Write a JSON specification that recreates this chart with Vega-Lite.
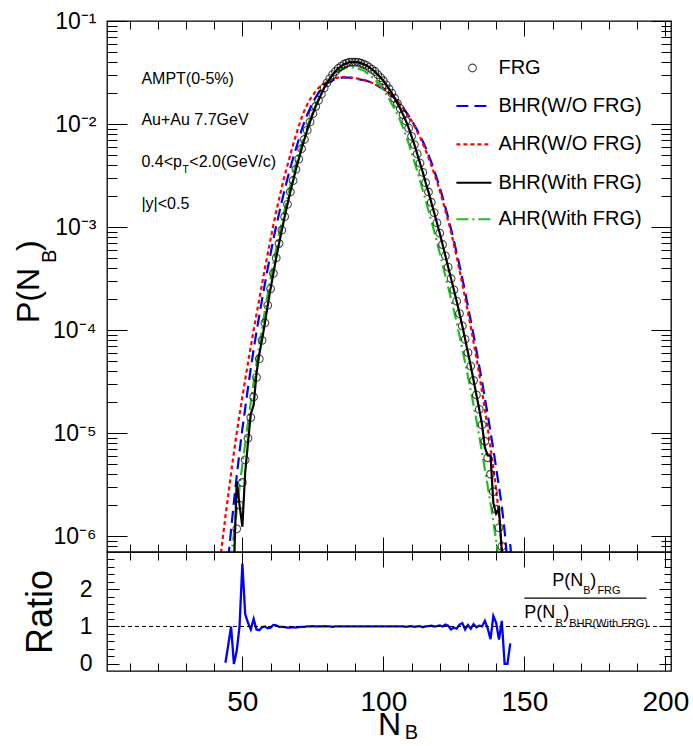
{
"$schema": "https://vega.github.io/schema/vega-lite/v6.json",
"background": "white",
"padding": {"left": 12, "top": 9, "right": 2, "bottom": 2},
"autosize": {"type": "pad"},
"spacing": 0,
"bounds": "flush",
"config": {
 "view": {"stroke": "#000", "strokeWidth": 1.3},
 "font": "Liberation Sans",
 "axis": {"domain": false, "grid": false, "tickColor": "#000", "tickWidth": 1, "labelColor": "#000", "labelFont": "Liberation Sans", "titleFont": "Liberation Sans", "titleFontWeight": "normal", "titleColor": "#000"},
 "text": {"font": "Liberation Sans", "color": "#000"}
},
"datasets": {
 "frg": [{"N":48,"P":1.175e-6},{"N":49,"P":1.995e-6},{"N":50,"P":3.311e-6},{"N":51,"P":5.495e-6},{"N":52,"P":8.913e-6},{"N":53,"P":1.413e-5},{"N":54,"P":2.239e-5},{"N":55,"P":3.467e-5},{"N":56,"P":5.248e-5},{"N":57,"P":7.943e-5},{"N":58,"P":1.175e-4},{"N":59,"P":1.738e-4},{"N":60,"P":2.512e-4},{"N":61,"P":3.548e-4},{"N":62,"P":5.012e-4},{"N":63,"P":6.918e-4},{"N":64,"P":9.333e-4},{"N":65,"P":1.259e-3},{"N":66,"P":1.660e-3},{"N":67,"P":2.188e-3},{"N":68,"P":2.818e-3},{"N":69,"P":3.631e-3},{"N":70,"P":4.571e-3},{"N":71,"P":5.754e-3},{"N":72,"P":7.079e-3},{"N":73,"P":8.710e-3},{"N":74,"P":1.047e-2},{"N":75,"P":1.259e-2},{"N":76,"P":1.479e-2},{"N":77,"P":1.698e-2},{"N":78,"P":1.950e-2},{"N":79,"P":2.239e-2},{"N":80,"P":2.512e-2},{"N":81,"P":2.754e-2},{"N":82,"P":3.020e-2},{"N":83,"P":3.236e-2},{"N":84,"P":3.467e-2},{"N":85,"P":3.631e-2},{"N":86,"P":3.802e-2},{"N":87,"P":3.890e-2},{"N":88,"P":3.981e-2},{"N":89,"P":3.981e-2},{"N":90,"P":3.981e-2},{"N":91,"P":3.981e-2},{"N":92,"P":3.890e-2},{"N":93,"P":3.802e-2},{"N":94,"P":3.715e-2},{"N":95,"P":3.548e-2},{"N":96,"P":3.388e-2},{"N":97,"P":3.236e-2},{"N":98,"P":3.020e-2},{"N":99,"P":2.818e-2},{"N":100,"P":2.630e-2},{"N":101,"P":2.399e-2},{"N":102,"P":2.188e-2},{"N":103,"P":1.995e-2},{"N":104,"P":1.778e-2},{"N":105,"P":1.585e-2},{"N":106,"P":1.413e-2},{"N":107,"P":1.230e-2},{"N":108,"P":1.072e-2},{"N":109,"P":9.120e-3},{"N":110,"P":7.586e-3},{"N":111,"P":6.310e-3},{"N":112,"P":5.129e-3},{"N":113,"P":4.169e-3},{"N":114,"P":3.388e-3},{"N":115,"P":2.692e-3},{"N":116,"P":2.188e-3},{"N":117,"P":1.738e-3},{"N":118,"P":1.380e-3},{"N":119,"P":1.096e-3},{"N":120,"P":8.710e-4},{"N":121,"P":6.761e-4},{"N":122,"P":5.248e-4},{"N":123,"P":4.074e-4},{"N":124,"P":3.162e-4},{"N":125,"P":2.455e-4},{"N":126,"P":1.905e-4},{"N":127,"P":1.445e-4},{"N":128,"P":1.096e-4},{"N":129,"P":8.128e-5},{"N":130,"P":6.026e-5},{"N":131,"P":4.467e-5},{"N":132,"P":3.236e-5},{"N":133,"P":2.344e-5},{"N":134,"P":1.698e-5},{"N":135,"P":1.202e-5},{"N":136,"P":8.318e-6},{"N":137,"P":5.754e-6},{"N":138,"P":3.981e-6},{"N":139,"P":2.692e-6},{"N":140,"P":1.820e-6},{"N":141,"P":1.202e-6},{"N":142,"P":7.943e-7}],
 "curves": [
  {"s":"bw","N":45,"P":6.026e-7},{"s":"bw","N":46,"P":1.148e-6},{"s":"bw","N":47,"P":2.138e-6},{"s":"bw","N":48,"P":3.802e-6},{"s":"bw","N":49,"P":6.607e-6},{"s":"bw","N":50,"P":1.096e-5},{"s":"bw","N":51,"P":1.738e-5},{"s":"bw","N":52,"P":2.754e-5},{"s":"bw","N":53,"P":4.266e-5},{"s":"bw","N":54,"P":6.457e-5},{"s":"bw","N":55,"P":9.550e-5},{"s":"bw","N":56,"P":1.380e-4},{"s":"bw","N":57,"P":1.995e-4},{"s":"bw","N":58,"P":2.818e-4},{"s":"bw","N":59,"P":3.981e-4},{"s":"bw","N":60,"P":5.495e-4},{"s":"bw","N":61,"P":7.586e-4},{"s":"bw","N":62,"P":1.023e-3},{"s":"bw","N":63,"P":1.349e-3},{"s":"bw","N":64,"P":1.778e-3},{"s":"bw","N":65,"P":2.291e-3},{"s":"bw","N":66,"P":2.951e-3},{"s":"bw","N":67,"P":3.715e-3},{"s":"bw","N":68,"P":4.677e-3},{"s":"bw","N":69,"P":5.754e-3},{"s":"bw","N":70,"P":7.079e-3},{"s":"bw","N":71,"P":8.710e-3},{"s":"bw","N":72,"P":1.047e-2},{"s":"bw","N":73,"P":1.230e-2},{"s":"bw","N":74,"P":1.413e-2},{"s":"bw","N":75,"P":1.622e-2},{"s":"bw","N":76,"P":1.820e-2},{"s":"bw","N":77,"P":1.995e-2},{"s":"bw","N":78,"P":2.188e-2},{"s":"bw","N":79,"P":2.344e-2},{"s":"bw","N":80,"P":2.455e-2},{"s":"bw","N":81,"P":2.570e-2},{"s":"bw","N":82,"P":2.661e-2},{"s":"bw","N":83,"P":2.723e-2},{"s":"bw","N":84,"P":2.786e-2},{"s":"bw","N":85,"P":2.818e-2},{"s":"bw","N":86,"P":2.818e-2},{"s":"bw","N":87,"P":2.818e-2},{"s":"bw","N":88,"P":2.818e-2},{"s":"bw","N":89,"P":2.786e-2},{"s":"bw","N":90,"P":2.754e-2},{"s":"bw","N":91,"P":2.723e-2},{"s":"bw","N":92,"P":2.692e-2},{"s":"bw","N":93,"P":2.661e-2},{"s":"bw","N":94,"P":2.630e-2},{"s":"bw","N":95,"P":2.570e-2},{"s":"bw","N":96,"P":2.512e-2},{"s":"bw","N":97,"P":2.427e-2},{"s":"bw","N":98,"P":2.344e-2},{"s":"bw","N":99,"P":2.265e-2},{"s":"bw","N":100,"P":2.188e-2},{"s":"bw","N":101,"P":2.089e-2},{"s":"bw","N":102,"P":1.995e-2},{"s":"bw","N":103,"P":1.884e-2},{"s":"bw","N":104,"P":1.778e-2},{"s":"bw","N":105,"P":1.660e-2},{"s":"bw","N":106,"P":1.549e-2},{"s":"bw","N":107,"P":1.429e-2},{"s":"bw","N":108,"P":1.318e-2},{"s":"bw","N":109,"P":1.202e-2},{"s":"bw","N":110,"P":1.084e-2},{"s":"bw","N":111,"P":9.772e-3},{"s":"bw","N":112,"P":8.710e-3},{"s":"bw","N":113,"P":7.674e-3},{"s":"bw","N":114,"P":6.761e-3},{"s":"bw","N":115,"P":5.888e-3},{"s":"bw","N":116,"P":5.012e-3},{"s":"bw","N":117,"P":4.266e-3},{"s":"bw","N":118,"P":3.548e-3},{"s":"bw","N":119,"P":2.951e-3},{"s":"bw","N":120,"P":2.399e-3},{"s":"bw","N":121,"P":1.950e-3},{"s":"bw","N":122,"P":1.549e-3},{"s":"bw","N":123,"P":1.230e-3},{"s":"bw","N":124,"P":9.550e-4},{"s":"bw","N":125,"P":7.413e-4},{"s":"bw","N":126,"P":5.623e-4},{"s":"bw","N":127,"P":4.266e-4},{"s":"bw","N":128,"P":3.162e-4},{"s":"bw","N":129,"P":2.344e-4},{"s":"bw","N":130,"P":1.698e-4},{"s":"bw","N":131,"P":1.230e-4},{"s":"bw","N":132,"P":8.913e-5},{"s":"bw","N":133,"P":6.310e-5},{"s":"bw","N":134,"P":4.467e-5},{"s":"bw","N":135,"P":3.162e-5},{"s":"bw","N":136,"P":2.188e-5},{"s":"bw","N":137,"P":1.514e-5},{"s":"bw","N":138,"P":1.023e-5},{"s":"bw","N":139,"P":6.918e-6},{"s":"bw","N":140,"P":4.571e-6},{"s":"bw","N":141,"P":3.020e-6},{"s":"bw","N":142,"P":1.950e-6},{"s":"bw","N":143,"P":1.122e-6},{"s":"bw","N":144,"P":5.623e-7},{"s":"bw","N":145,"P":8.318e-7},{"s":"bw","N":146,"P":3.981e-7},
  {"s":"aw","N":41,"P":3.162e-7},{"s":"aw","N":42,"P":5.495e-7},{"s":"aw","N":43,"P":9.333e-7},{"s":"aw","N":44,"P":1.549e-6},{"s":"aw","N":45,"P":2.512e-6},{"s":"aw","N":46,"P":4.074e-6},{"s":"aw","N":47,"P":6.457e-6},{"s":"aw","N":48,"P":1.0e-5},{"s":"aw","N":49,"P":1.514e-5},{"s":"aw","N":50,"P":2.239e-5},{"s":"aw","N":51,"P":3.311e-5},{"s":"aw","N":52,"P":4.786e-5},{"s":"aw","N":53,"P":6.918e-5},{"s":"aw","N":54,"P":1.0e-4},{"s":"aw","N":55,"P":1.413e-4},{"s":"aw","N":56,"P":1.995e-4},{"s":"aw","N":57,"P":2.818e-4},{"s":"aw","N":58,"P":3.981e-4},{"s":"aw","N":59,"P":5.495e-4},{"s":"aw","N":60,"P":7.586e-4},{"s":"aw","N":61,"P":1.047e-3},{"s":"aw","N":62,"P":1.413e-3},{"s":"aw","N":63,"P":1.862e-3},{"s":"aw","N":64,"P":2.455e-3},{"s":"aw","N":65,"P":3.162e-3},{"s":"aw","N":66,"P":3.981e-3},{"s":"aw","N":67,"P":5.012e-3},{"s":"aw","N":68,"P":6.310e-3},{"s":"aw","N":69,"P":7.762e-3},{"s":"aw","N":70,"P":9.550e-3},{"s":"aw","N":71,"P":1.148e-2},{"s":"aw","N":72,"P":1.349e-2},{"s":"aw","N":73,"P":1.549e-2},{"s":"aw","N":74,"P":1.738e-2},{"s":"aw","N":75,"P":1.905e-2},{"s":"aw","N":76,"P":2.089e-2},{"s":"aw","N":77,"P":2.239e-2},{"s":"aw","N":78,"P":2.371e-2},{"s":"aw","N":79,"P":2.483e-2},{"s":"aw","N":80,"P":2.570e-2},{"s":"aw","N":81,"P":2.661e-2},{"s":"aw","N":82,"P":2.723e-2},{"s":"aw","N":83,"P":2.786e-2},{"s":"aw","N":84,"P":2.818e-2},{"s":"aw","N":85,"P":2.851e-2},{"s":"aw","N":86,"P":2.851e-2},{"s":"aw","N":87,"P":2.851e-2},{"s":"aw","N":88,"P":2.818e-2},{"s":"aw","N":89,"P":2.818e-2},{"s":"aw","N":90,"P":2.786e-2},{"s":"aw","N":91,"P":2.754e-2},{"s":"aw","N":92,"P":2.723e-2},{"s":"aw","N":93,"P":2.692e-2},{"s":"aw","N":94,"P":2.630e-2},{"s":"aw","N":95,"P":2.570e-2},{"s":"aw","N":96,"P":2.512e-2},{"s":"aw","N":97,"P":2.455e-2},{"s":"aw","N":98,"P":2.371e-2},{"s":"aw","N":99,"P":2.291e-2},{"s":"aw","N":100,"P":2.188e-2},{"s":"aw","N":101,"P":2.089e-2},{"s":"aw","N":102,"P":1.995e-2},{"s":"aw","N":103,"P":1.884e-2},{"s":"aw","N":104,"P":1.778e-2},{"s":"aw","N":105,"P":1.660e-2},{"s":"aw","N":106,"P":1.549e-2},{"s":"aw","N":107,"P":1.429e-2},{"s":"aw","N":108,"P":1.303e-2},{"s":"aw","N":109,"P":1.189e-2},{"s":"aw","N":110,"P":1.072e-2},{"s":"aw","N":111,"P":9.550e-3},{"s":"aw","N":112,"P":8.414e-3},{"s":"aw","N":113,"P":7.413e-3},{"s":"aw","N":114,"P":6.457e-3},{"s":"aw","N":115,"P":5.559e-3},{"s":"aw","N":116,"P":4.732e-3},{"s":"aw","N":117,"P":3.981e-3},{"s":"aw","N":118,"P":3.311e-3},{"s":"aw","N":119,"P":2.754e-3},{"s":"aw","N":120,"P":2.239e-3},{"s":"aw","N":121,"P":1.820e-3},{"s":"aw","N":122,"P":1.445e-3},{"s":"aw","N":123,"P":1.148e-3},{"s":"aw","N":124,"P":8.913e-4},{"s":"aw","N":125,"P":6.761e-4},{"s":"aw","N":126,"P":5.129e-4},{"s":"aw","N":127,"P":3.802e-4},{"s":"aw","N":128,"P":2.818e-4},{"s":"aw","N":129,"P":2.042e-4},{"s":"aw","N":130,"P":1.479e-4},{"s":"aw","N":131,"P":1.072e-4},{"s":"aw","N":132,"P":7.586e-5},{"s":"aw","N":133,"P":5.370e-5},{"s":"aw","N":134,"P":3.715e-5},{"s":"aw","N":135,"P":2.512e-5},{"s":"aw","N":136,"P":1.698e-5},{"s":"aw","N":137,"P":1.122e-5},{"s":"aw","N":138,"P":7.244e-6},{"s":"aw","N":139,"P":4.571e-6},{"s":"aw","N":140,"P":2.818e-6},{"s":"aw","N":141,"P":1.585e-6},{"s":"aw","N":142,"P":7.943e-7},{"s":"aw","N":143,"P":3.548e-7},
  {"s":"af","N":45,"P":3.39e-7},{"s":"af","N":46,"P":6.03e-7},{"s":"af","N":47,"P":1.047e-6},{"s":"af","N":48,"P":1.778e-6},{"s":"af","N":49,"P":2.951e-6},{"s":"af","N":50,"P":4.898e-6},{"s":"af","N":51,"P":7.943e-6},{"s":"af","N":52,"P":1.259e-5},{"s":"af","N":53,"P":1.995e-5},{"s":"af","N":54,"P":3.090e-5},{"s":"af","N":55,"P":4.677e-5},{"s":"af","N":56,"P":7.079e-5},{"s":"af","N":57,"P":1.047e-4},{"s":"af","N":58,"P":1.549e-4},{"s":"af","N":59,"P":2.239e-4},{"s":"af","N":60,"P":3.162e-4},{"s":"af","N":61,"P":4.467e-4},{"s":"af","N":62,"P":6.166e-4},{"s":"af","N":63,"P":8.318e-4},{"s":"af","N":64,"P":1.122e-3},{"s":"af","N":65,"P":1.479e-3},{"s":"af","N":66,"P":1.950e-3},{"s":"af","N":67,"P":2.512e-3},{"s":"af","N":68,"P":3.236e-3},{"s":"af","N":69,"P":4.074e-3},{"s":"af","N":70,"P":5.129e-3},{"s":"af","N":71,"P":6.310e-3},{"s":"af","N":72,"P":7.762e-3},{"s":"af","N":73,"P":9.333e-3},{"s":"af","N":74,"P":1.122e-2},{"s":"af","N":75,"P":1.318e-2},{"s":"af","N":76,"P":1.514e-2},{"s":"af","N":77,"P":1.738e-2},{"s":"af","N":78,"P":1.995e-2},{"s":"af","N":79,"P":2.239e-2},{"s":"af","N":80,"P":2.455e-2},{"s":"af","N":81,"P":2.692e-2},{"s":"af","N":82,"P":2.884e-2},{"s":"af","N":83,"P":3.090e-2},{"s":"af","N":84,"P":3.236e-2},{"s":"af","N":85,"P":3.388e-2},{"s":"af","N":86,"P":3.467e-2},{"s":"af","N":87,"P":3.548e-2},{"s":"af","N":88,"P":3.548e-2},{"s":"af","N":89,"P":3.548e-2},{"s":"af","N":90,"P":3.508e-2},{"s":"af","N":91,"P":3.467e-2},{"s":"af","N":92,"P":3.388e-2},{"s":"af","N":93,"P":3.311e-2},{"s":"af","N":94,"P":3.162e-2},{"s":"af","N":95,"P":3.020e-2},{"s":"af","N":96,"P":2.851e-2},{"s":"af","N":97,"P":2.692e-2},{"s":"af","N":98,"P":2.512e-2},{"s":"af","N":99,"P":2.344e-2},{"s":"af","N":100,"P":2.138e-2},{"s":"af","N":101,"P":1.950e-2},{"s":"af","N":102,"P":1.758e-2},{"s":"af","N":103,"P":1.567e-2},{"s":"af","N":104,"P":1.396e-2},{"s":"af","N":105,"P":1.230e-2},{"s":"af","N":106,"P":1.072e-2},{"s":"af","N":107,"P":9.226e-3},{"s":"af","N":108,"P":7.762e-3},{"s":"af","N":109,"P":6.457e-3},{"s":"af","N":110,"P":5.309e-3},{"s":"af","N":111,"P":4.315e-3},{"s":"af","N":112,"P":3.508e-3},{"s":"af","N":113,"P":2.818e-3},{"s":"af","N":114,"P":2.265e-3},{"s":"af","N":115,"P":1.820e-3},{"s":"af","N":116,"P":1.445e-3},{"s":"af","N":117,"P":1.148e-3},{"s":"af","N":118,"P":9.120e-4},{"s":"af","N":119,"P":7.161e-4},{"s":"af","N":120,"P":5.559e-4},{"s":"af","N":121,"P":4.315e-4},{"s":"af","N":122,"P":3.350e-4},{"s":"af","N":123,"P":2.600e-4},{"s":"af","N":124,"P":2.018e-4},{"s":"af","N":125,"P":1.549e-4},{"s":"af","N":126,"P":1.175e-4},{"s":"af","N":127,"P":8.81e-5},{"s":"af","N":128,"P":6.53e-5},{"s":"af","N":129,"P":4.84e-5},{"s":"af","N":130,"P":3.548e-5},{"s":"af","N":131,"P":2.570e-5},{"s":"af","N":132,"P":1.862e-5},{"s":"af","N":133,"P":1.334e-5},{"s":"af","N":134,"P":9.33e-6},{"s":"af","N":135,"P":6.457e-6},{"s":"af","N":136,"P":4.467e-6},{"s":"af","N":137,"P":3.055e-6},{"s":"af","N":138,"P":2.065e-6},{"s":"af","N":139,"P":1.380e-6},{"s":"af","N":140,"P":9.12e-7},{"s":"af","N":141,"P":5.62e-7},
  {"s":"bf","N":47,"P":5.0e-7},{"s":"bf","N":48,"P":3.39e-6},{"s":"bf","N":49,"P":2.0e-6},{"s":"bf","N":50,"P":1.23e-6},{"s":"bf","N":51,"P":4.13e-6},{"s":"bf","N":52,"P":8.1e-6},{"s":"bf","N":53,"P":1.536e-5},{"s":"bf","N":54,"P":1.866e-5},{"s":"bf","N":55,"P":3.768e-5},{"s":"bf","N":56,"P":5.83e-5},{"s":"bf","N":57,"P":8.1e-5},{"s":"bf","N":58,"P":1.175e-4},{"s":"bf","N":59,"P":1.738e-4},{"s":"bf","N":60,"P":2.512e-4},{"s":"bf","N":61,"P":3.548e-4},{"s":"bf","N":62,"P":5.012e-4},{"s":"bf","N":63,"P":6.918e-4},{"s":"bf","N":64,"P":9.333e-4},{"s":"bf","N":65,"P":1.259e-3},{"s":"bf","N":66,"P":1.660e-3},{"s":"bf","N":67,"P":2.188e-3},{"s":"bf","N":68,"P":2.818e-3},{"s":"bf","N":69,"P":3.631e-3},{"s":"bf","N":70,"P":4.571e-3},{"s":"bf","N":71,"P":5.754e-3},{"s":"bf","N":72,"P":7.079e-3},{"s":"bf","N":73,"P":8.710e-3},{"s":"bf","N":74,"P":1.047e-2},{"s":"bf","N":75,"P":1.259e-2},{"s":"bf","N":76,"P":1.479e-2},{"s":"bf","N":77,"P":1.698e-2},{"s":"bf","N":78,"P":1.950e-2},{"s":"bf","N":79,"P":2.239e-2},{"s":"bf","N":80,"P":2.512e-2},{"s":"bf","N":81,"P":2.754e-2},{"s":"bf","N":82,"P":3.020e-2},{"s":"bf","N":83,"P":3.236e-2},{"s":"bf","N":84,"P":3.467e-2},{"s":"bf","N":85,"P":3.631e-2},{"s":"bf","N":86,"P":3.802e-2},{"s":"bf","N":87,"P":3.890e-2},{"s":"bf","N":88,"P":3.981e-2},{"s":"bf","N":89,"P":3.981e-2},{"s":"bf","N":90,"P":3.981e-2},{"s":"bf","N":91,"P":3.981e-2},{"s":"bf","N":92,"P":3.890e-2},{"s":"bf","N":93,"P":3.802e-2},{"s":"bf","N":94,"P":3.715e-2},{"s":"bf","N":95,"P":3.548e-2},{"s":"bf","N":96,"P":3.388e-2},{"s":"bf","N":97,"P":3.236e-2},{"s":"bf","N":98,"P":3.020e-2},{"s":"bf","N":99,"P":2.818e-2},{"s":"bf","N":100,"P":2.630e-2},{"s":"bf","N":101,"P":2.399e-2},{"s":"bf","N":102,"P":2.188e-2},{"s":"bf","N":103,"P":1.995e-2},{"s":"bf","N":104,"P":1.778e-2},{"s":"bf","N":105,"P":1.585e-2},{"s":"bf","N":106,"P":1.413e-2},{"s":"bf","N":107,"P":1.230e-2},{"s":"bf","N":108,"P":1.072e-2},{"s":"bf","N":109,"P":9.120e-3},{"s":"bf","N":110,"P":7.586e-3},{"s":"bf","N":111,"P":6.310e-3},{"s":"bf","N":112,"P":5.129e-3},{"s":"bf","N":113,"P":4.169e-3},{"s":"bf","N":114,"P":3.388e-3},{"s":"bf","N":115,"P":2.692e-3},{"s":"bf","N":116,"P":2.188e-3},{"s":"bf","N":117,"P":1.738e-3},{"s":"bf","N":118,"P":1.380e-3},{"s":"bf","N":119,"P":1.096e-3},{"s":"bf","N":120,"P":8.710e-4},{"s":"bf","N":121,"P":6.761e-4},{"s":"bf","N":122,"P":5.248e-4},{"s":"bf","N":123,"P":4.074e-4},{"s":"bf","N":124,"P":3.162e-4},{"s":"bf","N":125,"P":2.455e-4},{"s":"bf","N":126,"P":1.905e-4},{"s":"bf","N":127,"P":1.445e-4},{"s":"bf","N":128,"P":1.096e-4},{"s":"bf","N":129,"P":8.128e-5},{"s":"bf","N":130,"P":6.026e-5},{"s":"bf","N":131,"P":4.467e-5},{"s":"bf","N":132,"P":3.236e-5},{"s":"bf","N":133,"P":2.344e-5},{"s":"bf","N":134,"P":1.698e-5},{"s":"bf","N":135,"P":1.202e-5},{"s":"bf","N":136,"P":7.23e-6},{"s":"bf","N":137,"P":6.06e-6},{"s":"bf","N":138,"P":6.03e-6},{"s":"bf","N":139,"P":2.1e-6},{"s":"bf","N":140,"P":1.65e-6},{"s":"bf","N":141,"P":1.85e-6},{"s":"bf","N":142,"P":6.9e-7},{"s":"bf","N":143,"P":5.0e-7}
 ],
 "ratio": [{"N":44,"r":0.03},{"N":45,"r":0.5},{"N":46,"r":1.0},{"N":47,"r":0.0},{"N":48,"r":0.35},{"N":49,"r":1.0},{"N":50,"r":2.68},{"N":51,"r":1.33},{"N":52,"r":1.1},{"N":53,"r":0.92},{"N":54,"r":1.2},{"N":55,"r":0.92},{"N":56,"r":0.9},{"N":57,"r":0.98},{"N":58,"r":1.0},{"N":59,"r":0.95},{"N":60,"r":0.97},{"N":61,"r":1.04},{"N":62,"r":1.03},{"N":63,"r":0.99},{"N":64,"r":0.99},{"N":65,"r":0.98},{"N":66,"r":0.97},{"N":67,"r":0.97},{"N":68,"r":0.98},{"N":69,"r":0.97},{"N":70,"r":0.98},{"N":71,"r":0.99},{"N":72,"r":0.99},{"N":73,"r":1.0},{"N":74,"r":1.0},{"N":75,"r":1.01},{"N":76,"r":1.0},{"N":77,"r":1.0},{"N":78,"r":1.0},{"N":79,"r":1.01},{"N":80,"r":1.0},{"N":81,"r":1.0},{"N":82,"r":0.99},{"N":83,"r":1.0},{"N":84,"r":1.0},{"N":85,"r":1.0},{"N":86,"r":1.0},{"N":87,"r":1.0},{"N":88,"r":1.0},{"N":89,"r":1.0},{"N":90,"r":1.0},{"N":91,"r":1.0},{"N":92,"r":1.0},{"N":93,"r":1.0},{"N":94,"r":1.0},{"N":95,"r":1.0},{"N":96,"r":1.0},{"N":97,"r":1.0},{"N":98,"r":1.0},{"N":99,"r":1.0},{"N":100,"r":1.0},{"N":101,"r":1.0},{"N":102,"r":1.0},{"N":103,"r":1.0},{"N":104,"r":1.0},{"N":105,"r":1.0},{"N":106,"r":1.0},{"N":107,"r":1.0},{"N":108,"r":0.99},{"N":109,"r":1.0},{"N":110,"r":1.01},{"N":111,"r":0.99},{"N":112,"r":1.0},{"N":113,"r":1.01},{"N":114,"r":0.98},{"N":115,"r":1.0},{"N":116,"r":1.01},{"N":117,"r":1.02},{"N":118,"r":1.0},{"N":119,"r":1.01},{"N":120,"r":1.03},{"N":121,"r":1.0},{"N":122,"r":1.05},{"N":123,"r":1.02},{"N":124,"r":0.92},{"N":125,"r":0.97},{"N":126,"r":0.94},{"N":127,"r":1.05},{"N":128,"r":1.09},{"N":129,"r":0.92},{"N":130,"r":1.04},{"N":131,"r":0.94},{"N":132,"r":1.06},{"N":133,"r":0.98},{"N":134,"r":1.02},{"N":135,"r":1.0},{"N":136,"r":1.15},{"N":137,"r":0.95},{"N":138,"r":0.66},{"N":139,"r":1.28},{"N":140,"r":1.1},{"N":141,"r":0.65},{"N":142,"r":1.15},{"N":143,"r":0.0},{"N":144,"r":0.0},{"N":145,"r":0.55}],
 "legline": [{"s":"bw","x1":125.9,"x2":138.3,"P":0.01496},{"s":"aw","x1":125.9,"x2":138.3,"P":0.00635},{"s":"bf","x1":125.9,"x2":138.3,"P":0.00269},{"s":"af","x1":125.9,"x2":138.3,"P":0.00119}],
 "legpt": [{"N":131.6,"P":0.035}],
 "legtext": [{"t":"FRG","x":140.8,"P":0.035},{"t":"BHR(W/O FRG)","x":140.8,"P":0.01496},{"t":"AHR(W/O FRG)","x":140.8,"P":0.00635},{"t":"BHR(With FRG)","x":140.8,"P":0.00269},{"t":"AHR(With FRG)","x":140.8,"P":0.00119}],
 "annot": [{"t":"AMPT(0-5%)","x":14.2,"P":0.02443},{"t":"Au+Au 7.7GeV","x":14.2,"P":0.00977},{"t":"0.4<p","x":14.2,"P":0.00383},{"t":"<2.0(GeV/c)","x":31.2,"P":0.00383},{"t":"|y|<0.5","x":14.2,"P":0.001496}],
 "annotsub": [{"t":"T","x":28.7,"P":0.00334}],
 "ytmain": [{"t":"P(N","x":-22,"P":1.17e-4},{"t":")","x":-22,"P":5.85e-4}],
 "ytsub": [{"t":"B","x":-16,"P":4.47e-4}],
 "one": [{"v":1}],
 "fracline": [{"x1":150,"x2":193.3,"r":1.76}],
 "fracmain": [{"t":"P(N","x":159.9,"r":2.08},{"t":")","x":173.4,"r":2.08},{"t":"P(N","x":150.0,"r":1.227},{"t":")","x":163.8,"r":1.227}],
 "fracsub": [{"t":"B","x":170.9,"r":1.867},{"t":"FRG","x":175.9,"r":1.867},{"t":"B","x":161.0,"r":0.987},{"t":"BHR(With FRG)","x":165.9,"r":0.987}],
 "xtsub": [{"t":"B","x":107.6,"r":-2.02}]
},
"vconcat": [
 {
  "width": 564, "height": 531,
  "layer": [
   {"data": {"name": "curves"}, "mark": {"type": "line", "strokeWidth": 2.2, "clip": true},
    "encoding": {
     "x": {"field": "N", "type": "quantitative", "scale": {"domain": [2, 202], "nice": false, "zero": false},
       "axis": {"orient": "top", "values": [10,20,30,40,50,60,70,80,90,100,110,120,130,140,150,160,170,180,190,200], "labels": false, "title": null,
        "tickSize": {"condition": {"test": "datum.value % 50 === 0", "value": -15}, "value": -8}}},
     "y": {"field": "P", "type": "quantitative", "scale": {"type": "log", "domain": [7e-7, 0.1], "nice": false},
       "axis": {"orient": "right", "values": [8e-7,9e-7,1e-6,2e-6,3e-6,4e-6,5e-6,6e-6,7e-6,8e-6,9e-6,1e-5,2e-5,3e-5,4e-5,5e-5,6e-5,7e-5,8e-5,9e-5,1e-4,2e-4,3e-4,4e-4,5e-4,6e-4,7e-4,8e-4,9e-4,0.001,0.002,0.003,0.004,0.005,0.006,0.007,0.008,0.009,0.01,0.02,0.03,0.04,0.05,0.06,0.07,0.08,0.09,0.1], "labels": false, "title": null,
        "tickSize": {"condition": {"test": "abs(log(datum.value)/LN10 - round(log(datum.value)/LN10)) < 0.01", "value": -20}, "value": -10}}},
     "color": {"field": "s", "type": "nominal", "scale": {"domain": ["bw","aw","af","bf"], "range": ["#0000ff","#ff0000","#1fbf1f","#000000"]}, "legend": null},
     "strokeDash": {"field": "s", "type": "nominal", "scale": {"domain": ["bw","aw","af","bf"], "range": [[12,6],[4,3],[12,4,2,4],[1,0]]}, "legend": null}
    }},
   {"data": {"name": "frg"}, "mark": {"type": "point", "shape": "circle", "filled": false, "stroke": "#000", "strokeWidth": 1.1, "size": 60, "clip": true},
    "encoding": {
     "x": {"field": "N", "type": "quantitative",
       "axis": {"orient": "bottom", "values": [10,20,30,40,50,60,70,80,90,100,110,120,130,140,150,160,170,180,190,200], "labels": false, "title": null,
        "tickSize": {"condition": {"test": "datum.value % 50 === 0", "value": -15}, "value": -8}}},
     "y": {"field": "P", "type": "quantitative",
       "axis": {"orient": "left", "values": [8e-7,9e-7,1e-6,2e-6,3e-6,4e-6,5e-6,6e-6,7e-6,8e-6,9e-6,1e-5,2e-5,3e-5,4e-5,5e-5,6e-5,7e-5,8e-5,9e-5,1e-4,2e-4,3e-4,4e-4,5e-4,6e-4,7e-4,8e-4,9e-4,0.001,0.002,0.003,0.004,0.005,0.006,0.007,0.008,0.009,0.01,0.02,0.03,0.04,0.05,0.06,0.07,0.08,0.09,0.1], "title": null,
        "labelExpr": "abs(log(datum.value)/LN10 - round(log(datum.value)/LN10)) < 0.01 ? '10⁻' + ['⁰','¹','²','³','⁴','⁵','⁶','⁷'][-round(log(datum.value)/LN10)] : ''",
        "labelFontSize": 23, "labelPadding": 31, "labelOverlap": false, "labelBound": false, "labelAlign": "right", "labelBaseline": "middle",
        "tickSize": {"condition": {"test": "abs(log(datum.value)/LN10 - round(log(datum.value)/LN10)) < 0.01", "value": -20}, "value": -10}}}
    }},
   {"data": {"name": "legline"}, "mark": {"type": "rule", "strokeWidth": 2.2},
    "encoding": {
     "x": {"field": "x1", "type": "quantitative", "axis": null}, "x2": {"field": "x2"},
     "y": {"field": "P", "type": "quantitative", "axis": null},
     "color": {"field": "s", "type": "nominal", "legend": null},
     "strokeDash": {"field": "s", "type": "nominal", "legend": null}
    }},
   {"data": {"name": "legpt"}, "mark": {"type": "point", "shape": "circle", "filled": false, "stroke": "#000", "strokeWidth": 1.1, "size": 60},
    "encoding": {"x": {"field": "N", "type": "quantitative", "axis": null}, "y": {"field": "P", "type": "quantitative", "axis": null}}},
   {"data": {"name": "legtext"}, "mark": {"type": "text", "align": "left", "baseline": "middle", "fontSize": 20},
    "encoding": {"x": {"field": "x", "type": "quantitative", "axis": null}, "y": {"field": "P", "type": "quantitative", "axis": null}, "text": {"field": "t"}}},
   {"data": {"name": "annot"}, "mark": {"type": "text", "align": "left", "baseline": "alphabetic", "fontSize": 16},
    "encoding": {"x": {"field": "x", "type": "quantitative", "axis": null}, "y": {"field": "P", "type": "quantitative", "axis": null}, "text": {"field": "t"}}},
   {"data": {"name": "annotsub"}, "mark": {"type": "text", "align": "left", "baseline": "alphabetic", "fontSize": 11},
    "encoding": {"x": {"field": "x", "type": "quantitative", "axis": null}, "y": {"field": "P", "type": "quantitative", "axis": null}, "text": {"field": "t"}}},
   {"data": {"name": "ytmain"}, "mark": {"type": "text", "align": "left", "baseline": "alphabetic", "fontSize": 32, "angle": 270},
    "encoding": {"x": {"field": "x", "type": "quantitative", "axis": null}, "y": {"field": "P", "type": "quantitative", "axis": null}, "text": {"field": "t"}}},
   {"data": {"name": "ytsub"}, "mark": {"type": "text", "align": "left", "baseline": "alphabetic", "fontSize": 20, "angle": 270},
    "encoding": {"x": {"field": "x", "type": "quantitative", "axis": null}, "y": {"field": "P", "type": "quantitative", "axis": null}, "text": {"field": "t"}}}
  ],
  "resolve": {"axis": {"x": "independent", "y": "independent"}}
 },
 {
  "width": 564, "height": 119,
  "layer": [
   {"data": {"name": "ratio"}, "mark": {"type": "line", "stroke": "#0000ff", "strokeWidth": 2.3, "clip": true},
    "encoding": {
     "x": {"field": "N", "type": "quantitative", "scale": {"domain": [2, 202], "nice": false, "zero": false},
       "axis": {"orient": "bottom", "values": [10,20,30,40,50,60,70,80,90,100,110,120,130,140,150,160,170,180,190,200], "title": "N", "titleFontSize": 32, "titlePadding": -14,
        "labelExpr": "datum.value % 50 === 0 ? datum.label : ''", "labelFontSize": 28, "labelPadding": 32, "labelFlush": false, "labelOverlap": false, "labelBound": false,
        "tickSize": {"condition": {"test": "datum.value % 50 === 0", "value": -15}, "value": -8}}},
     "y": {"field": "r", "type": "quantitative", "scale": {"domain": [-0.19, 2.99], "nice": false, "zero": false},
       "axis": {"orient": "left", "values": [0,0.2,0.4,0.6,0.8,1,1.2,1.4,1.6,1.8,2,2.2,2.4,2.6,2.8], "title": "Ratio", "titleFontSize": 36, "titlePadding": 20,
        "labelExpr": "abs(datum.value - round(datum.value)) < 0.01 ? format(datum.value, 'd') : ''", "labelFontSize": 23, "labelPadding": 27, "labelOverlap": false, "labelBound": false,
        "tickSize": {"condition": {"test": "abs(datum.value - round(datum.value)) < 0.01", "value": -12}, "value": -7}}}
    }},
   {"data": {"name": "one"}, "mark": {"type": "rule", "stroke": "#000", "strokeWidth": 1, "strokeDash": [4, 3]},
    "encoding": {
     "y": {"field": "v", "type": "quantitative",
       "axis": {"orient": "right", "values": [0,0.2,0.4,0.6,0.8,1,1.2,1.4,1.6,1.8,2,2.2,2.4,2.6,2.8], "labels": false, "title": null,
        "tickSize": {"condition": {"test": "abs(datum.value - round(datum.value)) < 0.01", "value": -12}, "value": -7}}}
    }},
   {"data": {"name": "fracline"}, "mark": {"type": "rule", "stroke": "#000", "strokeWidth": 1.2},
    "encoding": {
     "x": {"field": "x1", "type": "quantitative",
       "axis": {"orient": "top", "values": [10,20,30,40,50,60,70,80,90,100,110,120,130,140,150,160,170,180,190,200], "labels": false, "title": null,
        "tickSize": {"condition": {"test": "datum.value % 50 === 0", "value": -15}, "value": -8}}},
     "x2": {"field": "x2"},
     "y": {"field": "r", "type": "quantitative", "axis": null}
    }},
   {"data": {"name": "fracmain"}, "mark": {"type": "text", "align": "left", "baseline": "alphabetic", "fontSize": 18},
    "encoding": {"x": {"field": "x", "type": "quantitative", "axis": null}, "y": {"field": "r", "type": "quantitative", "axis": null}, "text": {"field": "t"}}},
   {"data": {"name": "fracsub"}, "mark": {"type": "text", "align": "left", "baseline": "alphabetic", "fontSize": 11},
    "encoding": {"x": {"field": "x", "type": "quantitative", "axis": null}, "y": {"field": "r", "type": "quantitative", "axis": null}, "text": {"field": "t"}}},
   {"data": {"name": "xtsub"}, "mark": {"type": "text", "align": "left", "baseline": "alphabetic", "fontSize": 20},
    "encoding": {"x": {"field": "x", "type": "quantitative", "axis": null}, "y": {"field": "r", "type": "quantitative", "axis": null}, "text": {"field": "t"}}}
  ],
  "resolve": {"axis": {"x": "independent", "y": "independent"}}
 }
]
}
